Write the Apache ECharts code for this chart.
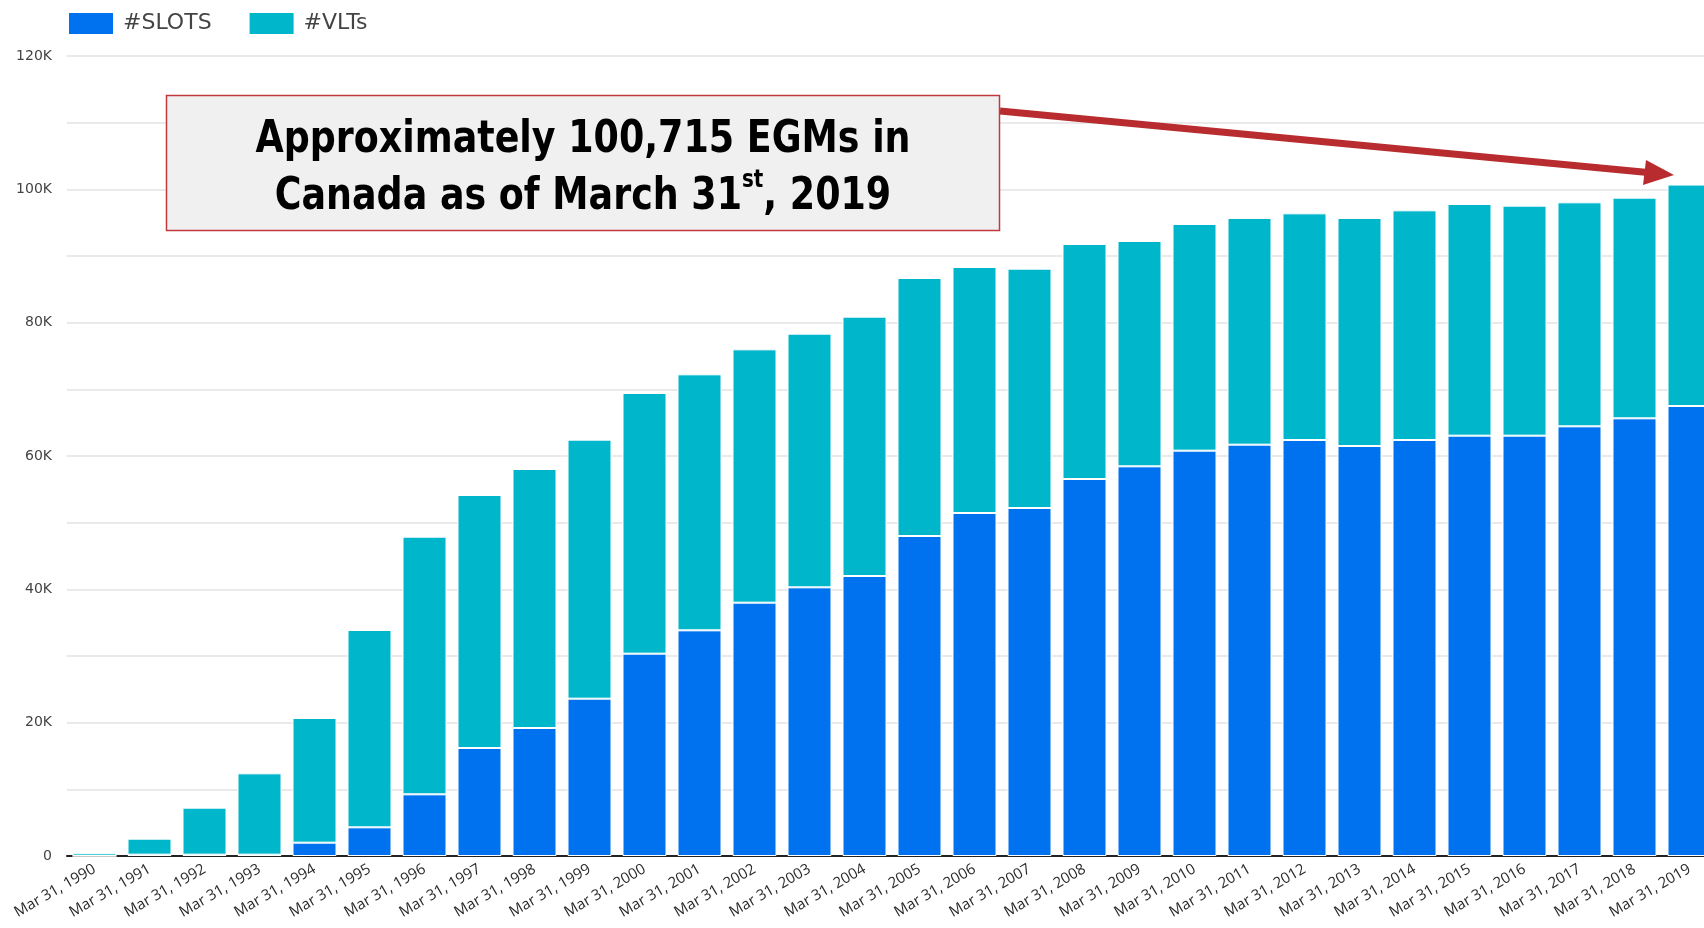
<!DOCTYPE html>
<html>
<head>
<meta charset="utf-8">
<script src="https://cdn.jsdelivr.net/npm/echarts@6/dist/echarts.min.js"></script>
<style>
  html, body { margin: 0; padding: 0; background: #fff; }
  #main { width: 1704px; height: 928px; }
</style>
</head>
<body>
<div id="main"></div>
<script>
var years = ['1990', '1991', '1992', '1993', '1994', '1995', '1996', '1997', '1998', '1999',
  '2000', '2001', '2002', '2003', '2004', '2005', '2006', '2007', '2008', '2009',
  '2010', '2011', '2012', '2013', '2014', '2015', '2016', '2017', '2018', '2019'];

var categories = years.map(function (y) { return 'Mar 31, ' + y; });

// #SLOTS per year
var slots = [0, 200, 200, 200, 2000, 4300, 9250, 16200, 19200, 23600,
  30350, 33850, 38000, 40300, 42000, 48000, 51450, 52200, 56550, 58450,
  60800, 61700, 62400, 61500, 62400, 63050, 63050, 64450, 65650, 67500];

// #VLTs per year
var vlts = [400, 2400, 7050, 12200, 18700, 29600, 38650, 37950, 38850, 38850,
  39100, 38400, 38000, 38050, 38900, 38700, 36900, 35900, 35250, 33800,
  34000, 34000, 34000, 34200, 34450, 34750, 34500, 33600, 33100, 33215];

var yTicks = [0, 20000, 40000, 60000, 80000, 100000, 120000];

var chart = echarts.init(document.getElementById('main'));

var option = {
  animation: false,
  color: ['#0072f0', '#00b6cb'],
  legend: {
    left: 62,
    top: 6,
    itemWidth: 46,
    itemHeight: 23,
    itemGap: 36,
    icon: 'rect',
    textStyle: { fontFamily: 'DejaVu Sans', fontSize: 22, color: '#444', padding: [0, 0, 0, 4] },
    data: ['#SLOTS', '#VLTs']
  },
  grid: { left: 67, right: -13, top: 56, bottom: 72, containLabel: false, outerBoundsMode: 'none' },
  xAxis: {
    type: 'category',
    data: categories,
    axisTick: { show: false },
    axisLine: { lineStyle: { color: '#222', width: 2 } },
    axisLabel: {
      interval: 0,
      rotate: 30,
      margin: 12,
      fontFamily: 'Open Sans',
      fontSize: 15,
      color: '#2a2a2a'
    }
  },
  yAxis: {
    type: 'value',
    min: 0,
    max: 120000,
    interval: 10000,
    axisLine: { show: false },
    axisTick: { show: false },
    splitLine: { lineStyle: { color: '#e3e3e3', width: 1.5 } },
    axisLabel: {
      margin: 15,
      fontFamily: 'DejaVu Sans',
      fontSize: 14,
      color: '#444',
      formatter: function (v) {
        if (yTicks.indexOf(v) < 0) return '';
        return v === 0 ? '0' : (v / 1000) + 'K';
      }
    }
  },
  series: [
    {
      name: '#SLOTS',
      type: 'bar',
      stack: 'egm',
      barCategoryGap: '20%',
      itemStyle: { borderColor: '#fff', borderWidth: 1 },
      data: slots
    },
    {
      name: '#VLTs',
      type: 'bar',
      stack: 'egm',
      barCategoryGap: '20%',
      itemStyle: { borderColor: '#fff', borderWidth: 1 },
      data: vlts
    }
  ],
  graphic: [
    {
      type: 'line',
      z: 100,
      shape: { x1: 1000, y1: 111, x2: 1648, y2: 172.5 },
      style: { stroke: '#b82c2f', lineWidth: 7 }
    },
    {
      type: 'polygon',
      z: 100,
      shape: { points: [[1646, 160], [1674, 175], [1643, 185]] },
      style: { fill: '#b82c2f' }
    },
    {
      type: 'rect',
      z: 101,
      shape: { x: 166.5, y: 95.5, width: 833, height: 135 },
      style: { fill: '#f0f0f0', stroke: '#c1393c', lineWidth: 1.5 }
    },
    {
      type: 'text',
      z: 102,
      x: 583,
      y: 169,
      scaleX: 0.92,
      style: {
        text: '{b|Approximately 100,715 EGMs in}\n{b|Canada as of March 31}{sup|st}{b|, 2019}',
        align: 'center',
        verticalAlign: 'middle',
        rich: {
          b: {
            fontFamily: 'Liberation Sans Narrow, DejaVu Sans Condensed, Liberation Sans',
            fontWeight: 'bold',
            fontSize: 44,
            lineHeight: 57,
            fill: '#000'
          },
          sup: {
            fontFamily: 'Liberation Sans Narrow, DejaVu Sans Condensed, Liberation Sans',
            fontWeight: 'bold',
            fontSize: 24,
            lineHeight: 57,
            verticalAlign: 'top',
            padding: [0, 0, 14, 0],
            fill: '#000'
          }
        }
      }
    }
  ]
};

chart.setOption(option);
</script>
</body>
</html>
